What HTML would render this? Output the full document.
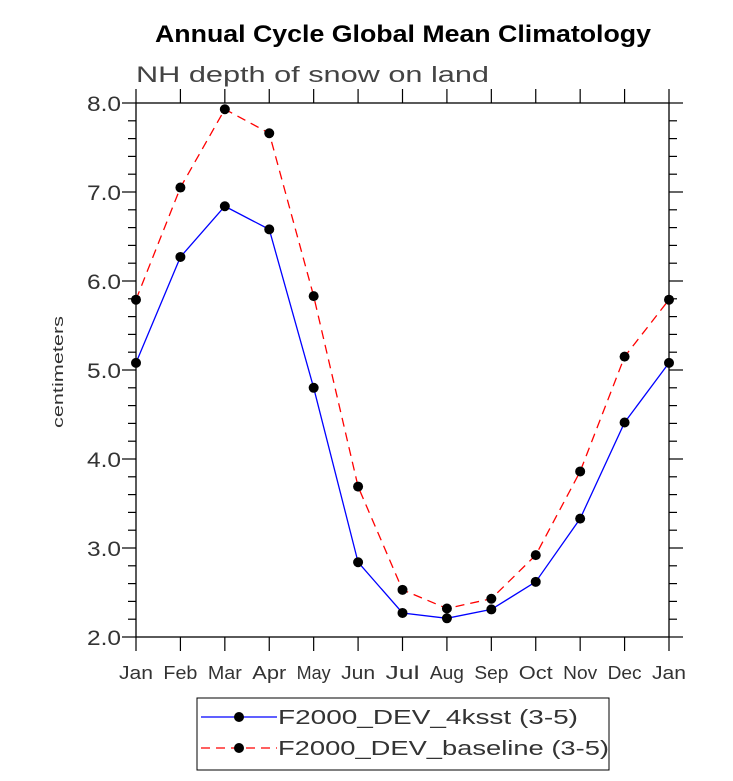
<!DOCTYPE html>
<html><head><meta charset="utf-8"><style>
body{margin:0;background:#fff;}
svg text{font-family:"Liberation Sans",sans-serif;}
</style></head><body>
<svg id="chart" width="733" height="776" xmlns="http://www.w3.org/2000/svg">
<text x="155" y="42" textLength="496" lengthAdjust="spacingAndGlyphs" font-size="24" font-weight="bold" fill="#000">Annual Cycle Global Mean Climatology</text>
<text x="136" y="82" textLength="353" lengthAdjust="spacingAndGlyphs" font-size="22" fill="#444">NH depth of snow on land</text>
<text transform="translate(63,372) rotate(-90)" text-anchor="middle" textLength="112" lengthAdjust="spacingAndGlyphs" font-size="15" fill="#333">centimeters</text>
<g id="axes"></g>
<g id="series"></g>
<rect x="197" y="698" width="412" height="72" fill="none" stroke="#000" stroke-width="1"/>
<g>
<line x1="201" y1="717" x2="277" y2="717" stroke="#0000ff" stroke-width="1.3"/>
<circle cx="239" cy="717" r="5" fill="#000"/>
<text x="278" y="724" textLength="300" lengthAdjust="spacingAndGlyphs" font-size="20" fill="#333">F2000_DEV_4ksst (3-5)</text>
</g>
<g>
<line x1="201" y1="748" x2="277" y2="748" stroke="#ff0000" stroke-width="1.3" stroke-dasharray="9,6"/>
<circle cx="239" cy="748" r="5" fill="#000"/>
<text x="278" y="755" textLength="331" lengthAdjust="spacingAndGlyphs" font-size="20" fill="#333">F2000_DEV_baseline (3-5)</text>
</g>
</svg>
<script>
const months = ["Jan","Feb","Mar","Apr","May","Jun","Jul","Aug","Sep","Oct","Nov","Dec","Jan"];
const series4ksst = [5.08,6.27,6.84,6.58,4.80,2.84,2.27,2.21,2.31,2.62,3.33,4.41,5.08];
const seriesBaseline = [5.79,7.05,7.93,7.66,5.83,3.69,2.53,2.32,2.43,2.92,3.86,5.15,5.79];
const yTicks = [2,3,4,5,6,7,8];
const yTickLabels = ["2.0","3.0","4.0","5.0","6.0","7.0","8.0"];

const NS="http://www.w3.org/2000/svg";
const X0=136,X1=669,Y0=637,Y1=103,YMIN=2,YMAX=8;
const xs=i=>X0+(X1-X0)*i/(months.length-1);
const ys=v=>Y0-(v-YMIN)/(YMAX-YMIN)*(Y0-Y1);
function mk(tag,attrs,parent){const e=document.createElementNS(NS,tag);for(const k in attrs)e.setAttribute(k,attrs[k]);parent.appendChild(e);return e;}
const ax=document.getElementById('axes');
const frame=mk('rect',{x:X0,y:Y1,width:X1-X0,height:Y0-Y1,fill:'none',stroke:'#000','stroke-width':1.3},ax);


for(let v=YMIN;v<=YMAX+1e-6;v+=0.2){
  const y=ys(v);const major=Math.abs(v-Math.round(v))<1e-6;const L=major?14:8;
  mk('line',{x1:X0-L,y1:y,x2:X0,y2:y,stroke:'#000','stroke-width':1.2},ax);
  mk('line',{x1:X1,y1:y,x2:X1+L,y2:y,stroke:'#000','stroke-width':1.2},ax);
}
yTicks.forEach((v,i)=>{
  const t=mk('text',{x:X0-15,y:ys(v)+8,'text-anchor':'end','font-size':21,fill:'#333',textLength:34,lengthAdjust:'spacingAndGlyphs'},ax);
  t.textContent=yTickLabels[i];
  
  
});
months.forEach((m,i)=>{
  const x=xs(i);
  mk('line',{x1:x,y1:Y0,x2:x,y2:Y0+14,stroke:'#000','stroke-width':1.2},ax);
  mk('line',{x1:x,y1:Y1,x2:x,y2:Y1-14,stroke:'#000','stroke-width':1.2},ax);
  const t=mk('text',{x:x-17,y:679,'font-size':18,fill:'#333',textLength:34,lengthAdjust:'spacingAndGlyphs'},ax);
  t.textContent=m;
  
  
});
const sg=document.getElementById('series');
function draw(vals,color,dash,name){
  const pts=vals.map((v,i)=>xs(i)+','+ys(v)).join(' ');
  const pl=mk('polyline',{points:pts,fill:'none',stroke:color,'stroke-width':1.3},sg);
  if(dash)pl.setAttribute('stroke-dasharray',dash);
  
  
  vals.forEach((v,i)=>{
    const c=mk('circle',{cx:xs(i),cy:ys(v),r:5,fill:'#000'},sg);
    
    
  });
}
draw(series4ksst,'#0000ff',null,'series-4ksst');
draw(seriesBaseline,'#ff0000','9,6','series-baseline');
</script>
</body></html>
